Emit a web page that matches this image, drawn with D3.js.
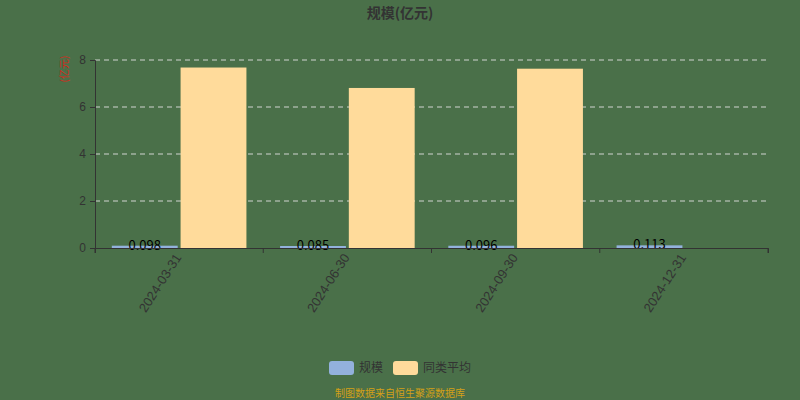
<!DOCTYPE html>
<html>
<head>
<meta charset="utf-8">
<script src="https://cdn.jsdelivr.net/npm/d3@7"></script>
<style>
  body { margin: 0; background: #4a7049; }
  svg { display: block; font-family: "Noto Sans CJK SC", "Noto Sans", sans-serif; }
</style>
</head>
<body>
<svg width="800" height="400"></svg>
<script>
const dates = ['2024-03-31', '2024-06-30', '2024-09-30', '2024-12-31']
const scale = [0.098, 0.085, 0.096, 0.113]
const peerAvg = [7.68, 6.81, 7.63, null]
const yTicks = [0, 2, 4, 6, 8]
const seriesNames = ['规模', '同类平均']
const colors = ['#93b1dc', '#ffdb9b']

const margin = { top: 60, right: 32, bottom: 152, left: 95 },
  width = 800 - margin.left - margin.right,
  height = 400 - margin.top - margin.bottom

const svg = d3.select('svg')

svg
  .append('text')
  .attr('x', 400)
  .attr('y', 18)
  .attr('text-anchor', 'middle')
  .attr('font-size', 14)
  .attr('font-weight', 'bold')
  .attr('fill', '#333')
  .text('规模(亿元)')

const g = svg
  .append('g')
  .attr('transform', 'translate(' + margin.left + ',' + margin.top + ')')

const xScale = d3.scaleBand().domain(dates).range([0, width])
const xInner = d3
  .scaleBand()
  .domain([0, 1])
  .range([xScale.bandwidth() * 0.1, xScale.bandwidth() * 0.9])
  .paddingInner(0.042)
const yScale = d3.scaleLinear().domain([0, 8]).range([height, 0])

// grid
g.selectAll('.grid')
  .data(yTicks.filter((d) => d > 0))
  .enter()
  .append('line')
  .attr('x1', 0)
  .attr('x2', width)
  .attr('y1', (d) => yScale(d))
  .attr('y2', (d) => yScale(d))
  .attr('stroke', '#e0e0e0')
  .attr('stroke-width', 0.9)
  .attr('stroke-dasharray', '5,4')

// bars
const groups = g
  .selectAll('.grp')
  .data(dates)
  .enter()
  .append('g')
  .attr('transform', (d) => 'translate(' + xScale(d) + ',0)')

groups
  .append('rect')
  .attr('x', xInner(0))
  .attr('width', xInner.bandwidth())
  .attr('y', (d, i) => yScale(scale[i]))
  .attr('height', (d, i) => height - yScale(scale[i]))
  .attr('fill', colors[0])

groups
  .filter((d, i) => peerAvg[i] != null)
  .append('rect')
  .attr('x', xInner(1))
  .attr('width', xInner.bandwidth())
  .attr('y', (d) => yScale(peerAvg[dates.indexOf(d)]))
  .attr('height', (d) => height - yScale(peerAvg[dates.indexOf(d)]))
  .attr('fill', colors[1])

groups
  .append('text')
  .attr('x', xInner(0) + xInner.bandwidth() / 2)
  .attr('y', (d, i) => yScale(scale[i]) + 4)
  .attr('text-anchor', 'middle')
  .attr('font-size', 13)
  .attr('fill', '#000')
  .text((d, i) => scale[i].toFixed(3))

// axes
const yAxis = d3.axisLeft(yScale).tickValues(yTicks).tickSize(5).tickPadding(4)
const yG = g.append('g').call(yAxis)
yG.select('.domain').attr('stroke', '#333')
yG.selectAll('.tick line').attr('stroke', '#333')
yG.selectAll('.tick text').attr('fill', '#333').attr('font-size', 12)

const xAxis = d3.axisBottom(xScale).tickSize(5).tickSizeOuter(5).tickFormat('')
const xG = g.append('g').attr('transform', `translate(0, ${height})`).call(xAxis)
xG.select('.domain').attr('stroke', '#333')
xG.selectAll('.tick line')
  .attr('stroke', '#333')
  .attr('transform', 'translate(' + -xScale.bandwidth() / 2 + ',0)')
g.append('line')
  .attr('x1', width)
  .attr('x2', width)
  .attr('y1', height)
  .attr('y2', height + 5)
  .attr('stroke', '#333')

xG.selectAll('.tick')
  .append('text')
  .attr('transform', 'translate(-1,7) rotate(-57)')
  .attr('text-anchor', 'end')
  .attr('dy', '0.35em')
  .attr('font-size', 13)
  .attr('fill', '#333')
  .text((d) => d)

// y axis name
svg
  .append('text')
  .attr('transform', 'translate(68,69) rotate(-90)')
  .attr('text-anchor', 'middle')
  .attr('font-size', 10)
  .attr('fill', '#d42a1c')
  .text('(亿元)')

// legend
const legend = svg.append('g').attr('transform', 'translate(329,361)')
const legX = [0, 64]
seriesNames.forEach((name, i) => {
  legend
    .append('rect')
    .attr('x', legX[i])
    .attr('width', 25)
    .attr('height', 14)
    .attr('rx', 3)
    .attr('fill', colors[i])
  legend
    .append('text')
    .attr('x', legX[i] + 30)
    .attr('y', 7)
    .attr('dy', '0.35em')
    .attr('font-size', 12)
    .attr('fill', '#333')
    .text(name)
})

svg
  .append('text')
  .attr('x', 400)
  .attr('y', 397)
  .attr('text-anchor', 'middle')
  .attr('font-size', 10)
  .attr('fill', '#d4a017')
  .text('制图数据来自恒生聚源数据库')
</script>
</body>
</html>
